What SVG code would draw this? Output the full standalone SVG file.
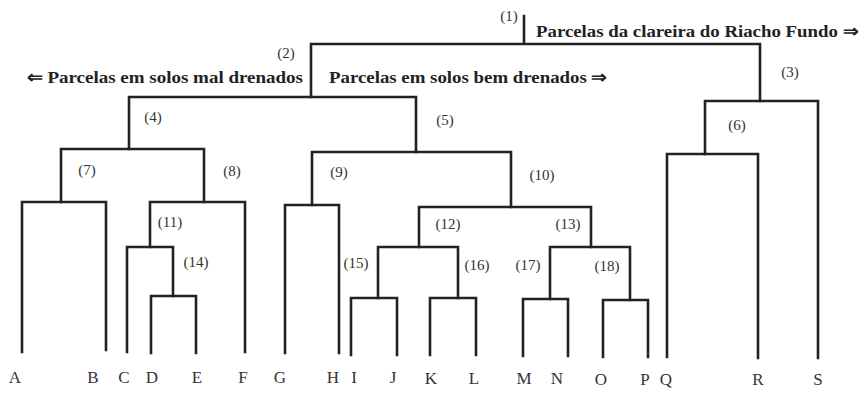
<svg xmlns="http://www.w3.org/2000/svg" width="860" height="393" viewBox="0 0 860 393">
<style>
.ln{fill:none;stroke:#222;stroke-width:2.6;stroke-linejoin:miter;stroke-linecap:square}
.leaf{font-family:"Liberation Serif","Times New Roman",serif;font-size:17px;fill:#333;text-anchor:middle}
.num{font-family:"Liberation Serif","Times New Roman",serif;font-size:15px;fill:#333;text-anchor:middle}
.grp{font-family:"Liberation Serif","Times New Roman",serif;font-size:17px;font-weight:bold;fill:#222}
</style>
<rect width="860" height="393" fill="#fff"/>
<g id="connectors">
<path class="ln" d="M524 16 V44 M311 97 V44 H760 V101"/>
<path class="ln" d="M129 149 V97 H416 V152"/>
<path class="ln" d="M705 154 V101 H818 V358"/>
<path class="ln" d="M667 357 V154 H758 V358"/>
<path class="ln" d="M61 202 V149 H204 V202"/>
<path class="ln" d="M22 352 V202 H106 V350"/>
<path class="ln" d="M150 247 V202 H245 V352"/>
<path class="ln" d="M127 352 V247 H173 V296"/>
<path class="ln" d="M151 353 V296 H196 V353"/>
<path class="ln" d="M312 205 V152 H511 V207"/>
<path class="ln" d="M285 353 V205 H339 V353"/>
<path class="ln" d="M419 247 V207 H591 V247"/>
<path class="ln" d="M378 298 V247 H458 V298"/>
<path class="ln" d="M351 355 V298 H397 V355"/>
<path class="ln" d="M430 355 V298 H476 V355"/>
<path class="ln" d="M550 299 V247 H630 V300"/>
<path class="ln" d="M523 356 V299 H568 V356"/>
<path class="ln" d="M603 357 V300 H648 V357"/>
</g>
<g id="groups">
<text class="grp" x="27" y="83" textLength="276" lengthAdjust="spacingAndGlyphs">⇐ Parcelas em solos mal drenados</text>
<text class="grp" x="329" y="83" textLength="278" lengthAdjust="spacingAndGlyphs">Parcelas em solos bem drenados ⇒</text>
<text class="grp" x="536" y="37" textLength="322" lengthAdjust="spacingAndGlyphs">Parcelas da clareira do Riacho Fundo ⇒</text>
</g>
<g id="n1"><text class="num" x="509" y="21">(1)</text></g>
<g id="n2"><text class="num" x="286" y="58">(2)</text></g>
<g id="n3"><text class="num" x="790" y="77">(3)</text></g>
<g id="n4"><text class="num" x="153" y="122">(4)</text></g>
<g id="n5"><text class="num" x="445" y="125">(5)</text></g>
<g id="n6"><text class="num" x="737" y="130">(6)</text></g>
<g id="n7"><text class="num" x="87" y="175">(7)</text></g>
<g id="n8"><text class="num" x="232" y="176">(8)</text></g>
<g id="n9"><text class="num" x="339" y="177">(9)</text></g>
<g id="n10"><text class="num" x="542" y="180">(10)</text></g>
<g id="n11"><text class="num" x="170" y="227">(11)</text></g>
<g id="n12"><text class="num" x="448" y="229">(12)</text></g>
<g id="n13"><text class="num" x="568" y="229">(13)</text></g>
<g id="n14"><text class="num" x="196" y="267">(14)</text></g>
<g id="n15"><text class="num" x="356" y="268">(15)</text></g>
<g id="n16"><text class="num" x="477" y="270">(16)</text></g>
<g id="n17"><text class="num" x="528" y="270">(17)</text></g>
<g id="n18"><text class="num" x="607" y="271">(18)</text></g>
<g id="leafA"><text class="leaf" x="15" y="383">A</text></g>
<g id="leafB"><text class="leaf" x="93" y="383">B</text></g>
<g id="leafC"><text class="leaf" x="124" y="383">C</text></g>
<g id="leafD"><text class="leaf" x="152" y="383">D</text></g>
<g id="leafE"><text class="leaf" x="197" y="383">E</text></g>
<g id="leafF"><text class="leaf" x="243" y="383">F</text></g>
<g id="leafG"><text class="leaf" x="280" y="383">G</text></g>
<g id="leafH"><text class="leaf" x="333" y="383">H</text></g>
<g id="leafI"><text class="leaf" x="354" y="383">I</text></g>
<g id="leafJ"><text class="leaf" x="393" y="383">J</text></g>
<g id="leafK"><text class="leaf" x="431" y="384">K</text></g>
<g id="leafL"><text class="leaf" x="474" y="384">L</text></g>
<g id="leafM"><text class="leaf" x="524" y="384">M</text></g>
<g id="leafN"><text class="leaf" x="557" y="384">N</text></g>
<g id="leafO"><text class="leaf" x="601" y="385">O</text></g>
<g id="leafP"><text class="leaf" x="645" y="385">P</text></g>
<g id="leafQ"><text class="leaf" x="666" y="385">Q</text></g>
<g id="leafR"><text class="leaf" x="758" y="385">R</text></g>
<g id="leafS"><text class="leaf" x="818" y="385">S</text></g>
</svg>
